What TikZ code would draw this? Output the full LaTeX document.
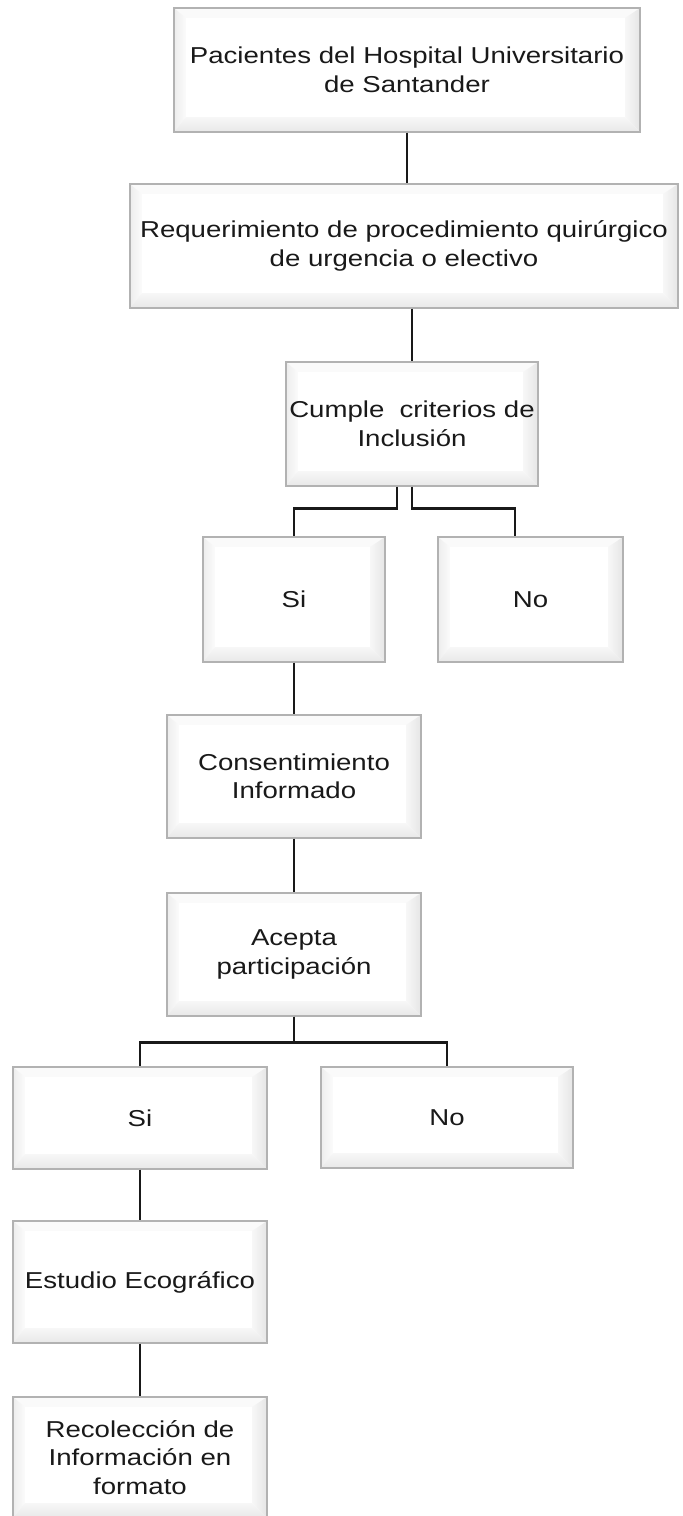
\documentclass[tikz,border=0pt]{standalone}
\usepackage{fontspec}
\setmainfont[FakeStretch=1.2]{Liberation Sans}
\newcommand{\bevfont}{\fontsize{23}{28.5}\selectfont}
\begin{document}
\begin{tikzpicture}[x=1pt,y=-1pt,
  bevelbox/.style={draw=gray!60, line width=1.4pt, fill=white, inner sep=0pt,
    align=center, font=\bevfont, text=black!90,
    path picture={
      \path (path picture bounding box.south west) coordinate (oSW)
            ([shift={(12pt,15pt)}]path picture bounding box.south west) coordinate (iSW)
            (path picture bounding box.south east) coordinate (oSE)
            ([shift={(-15pt,15pt)}]path picture bounding box.south east) coordinate (iSE)
            (path picture bounding box.north east) coordinate (oNE)
            ([shift={(-15pt,-10pt)}]path picture bounding box.north east) coordinate (iNE)
            (path picture bounding box.north west) coordinate (oNW)
            ([shift={(12pt,-10pt)}]path picture bounding box.north west) coordinate (iNW);
      \fill[gray!4] (oNW) -- (oNE) -- (iNE) -- (iNW) -- cycle;
      \shade[left color=gray!14, right color=gray!3] (oNW) -- (iNW) -- (iSW) -- (oSW) -- cycle;
      \shade[left color=gray!6, right color=gray!20] (oNE) -- (oSE) -- (iSE) -- (iNE) -- cycle;
      \shade[top color=gray!6, bottom color=gray!18] (oSW) -- (iSW) -- (iSE) -- (oSE) -- cycle;
      \fill[white] (iNW) rectangle (iSE);
    }},
  conn/.style={line width=2.6pt, draw=black!90}
]
\useasboundingbox (0,0) rectangle (683,1516);

\node[bevelbox, minimum width=466pt, minimum height=124pt] (b1) at (407,70)
  {Pacientes del Hospital Universitario\\de Santander};
\node[bevelbox, minimum width=548pt, minimum height=124pt] (b2) at (404,246)
  {Requerimiento de procedimiento quirúrgico\\de urgencia o electivo};
\node[bevelbox, minimum width=252pt, minimum height=124pt] (b3) at (412,424)
  {Cumple~~criterios de\\Inclusión};
\node[bevelbox, minimum width=182pt, minimum height=125pt] (si1) at (294,599.5) {Si};
\node[bevelbox, minimum width=185pt, minimum height=125pt] (no1) at (530.5,599.5) {No};
\node[bevelbox, minimum width=254pt, minimum height=123pt] (cons) at (294,776.5)
  {Consentimiento\\Informado};
\node[bevelbox, minimum width=254pt, minimum height=123pt] (acep) at (294,954.5)
  {Acepta\\participación};
\node[bevelbox, minimum width=254pt, minimum height=102pt] (si2) at (140,1118) {Si};
\node[bevelbox, minimum width=252pt, minimum height=101pt] (no2) at (447,1117.5) {No};
\node[bevelbox, minimum width=254pt, minimum height=122pt] (est) at (140,1282)
  {Estudio Ecográfico};
\node[bevelbox, minimum width=254pt, minimum height=121pt] (rec) at (140,1457.5)
  {Recolección de\\Información en\\formato};

\draw[conn] (b1.south) -- (b1.south |- b2.north);
\draw[conn] (b3.north |- b2.south) -- (b3.north);
\draw[conn] ([xshift=-15pt]b3.south) -- ++(0,22) -| (si1.north);
\draw[conn] (b3.south) -- ++(0,22) -| ([xshift=-15.5pt]no1.north);
\draw[conn] (si1.south) -- (cons.north);
\draw[conn] (cons.south) -- (acep.north);
\draw[conn] (acep.south) -- ++(0,26) -| (si2.north);
\draw[conn] (acep.south) -- ++(0,26) -| (no2.north);
\draw[conn] (si2.south) -- (est.north);
\draw[conn] (est.south) -- (rec.north);
\end{tikzpicture}
\end{document}
